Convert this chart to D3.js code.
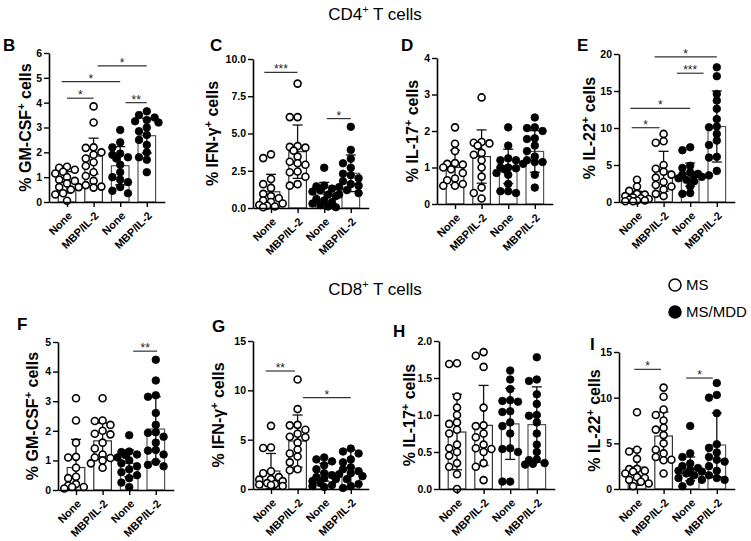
<!DOCTYPE html>
<html><head><meta charset="utf-8">
<script src="https://cdnjs.cloudflare.com/ajax/libs/d3/7.8.5/d3.min.js"></script>
<style>
body{margin:0;background:#fff}
svg{display:block}
text{font-family:"Liberation Sans",Arial,Helvetica,sans-serif}
</style>
</head><body>
<svg id="chart" width="751" height="541"></svg>
<script>
// ---------------- DATA ----------------
const categories = ["None", "MBP/IL-2", "None", "MBP/IL-2"];
const groupOf = ["MS", "MS", "MS/MDD", "MS/MDD"];
const legendItems = ["MS", "MS/MDD"];
const sectionTitles = ["CD4", "CD8"];

// CD4+ GM-CSF (B)
const cd4GmcsfPts = [
  [1.42, 1.38, 1.3, 1.22, 1.15, 1.0, 0.9, 0.85, 0.75, 0.6, 0.6, 0.5, 0.35, 0.3, 0.05],
  [3.85, 3.2, 2.2, 2.18, 2.0, 1.9, 1.75, 1.6, 1.45, 1.2, 1.05, 0.85, 0.68, 0.62, 0.58],
  [2.9, 2.4, 2.2, 1.95, 1.9, 1.8, 1.75, 1.5, 1.2, 1.0, 0.9, 0.8, 0.6, 0.45, 0.35],
  [3.65, 3.5, 3.4, 3.3, 3.25, 3.2, 3.0, 2.85, 2.7, 2.5, 2.3, 2.0, 1.8, 1.7, 1.2]
];
const cd4GmcsfMean = [0.79, 1.85, 1.46, 2.67];
const cd4GmcsfSd = [0.43, 0.72, 0.77, 0.7];
const cd4GmcsfSig = [[0, 1, 4.18, "*"], [-0.2, 2, 4.85, "*"], [1.15, 3, 5.48, "*"], [2.2, 3, 4.0, "**"]];

// CD4+ IFN-g (C)
const cd4IfngPts = [
  [3.6, 3.35, 1.95, 1.6, 1.35, 0.95, 0.8, 0.65, 0.5, 0.4, 0.3, 0.2, 0.15, 0.1, 0.05],
  [8.35, 6.1, 6.1, 4.15, 4.1, 4.05, 3.85, 3.45, 3.1, 3.0, 2.9, 2.45, 2.4, 2.1, 1.6, 1.5],
  [2.7, 1.5, 1.45, 1.3, 1.2, 1.1, 0.9, 0.8, 0.6, 0.5, 0.4, 0.3, 0.2, 0.1, 0.05],
  [5.45, 3.9, 3.3, 3.0, 2.7, 2.3, 2.2, 2.0, 1.8, 1.6, 1.5, 1.4, 1.2, 1.0, 0.9]
];
const cd4IfngMean = [1.09, 3.78, 0.94, 2.33];
const cd4IfngSd = [1.17, 1.79, 0.78, 1.23];
const cd4IfngSig = [[-0.25, 1, 9.1, "***"], [2.1, 3, 6.0, "*"]];

// CD4+ IL-17 (D)
const cd4Il17Pts = [
  [2.1, 1.65, 1.45, 1.12, 1.1, 1.08, 1.0, 0.95, 0.85, 0.7, 0.65, 0.55, 0.5, 0.5],
  [2.92, 1.7, 1.68, 1.66, 1.6, 1.4, 1.35, 1.2, 1.0, 0.75, 0.45, 0.3, 0.15],
  [2.1, 1.6, 1.25, 1.2, 1.2, 1.0, 1.0, 0.98, 0.95, 0.85, 0.8, 0.55, 0.35, 0.35, 0.3],
  [2.37, 2.1, 2.08, 2.0, 1.8, 1.78, 1.6, 1.45, 1.3, 1.2, 1.15, 1.15, 1.1, 0.8, 0.45]
];
const cd4Il17Mean = [1.0, 1.3, 1.03, 1.44];
const cd4Il17Sd = [0.47, 0.73, 0.47, 0.57];
const cd4Il17Sig = [];

// CD4+ IL-22 (E)
const cd4Il22Pts = [
  [3.0, 2.1, 1.5, 1.1, 1.0, 0.8, 0.6, 0.5, 0.4, 0.3, 0.2, 0.2, 0.1, 0.1],
  [9.2, 8.2, 8.0, 5.0, 4.5, 4.1, 3.7, 3.3, 2.7, 2.3, 2.1, 1.7, 1.1, 0.8],
  [7.4, 7.0, 4.9, 4.6, 4.0, 3.8, 3.7, 3.6, 3.4, 3.2, 3.0, 2.8, 2.1, 1.2, 1.1],
  [18.2, 17.0, 14.6, 13.7, 12.6, 11.2, 10.2, 10.1, 9.2, 8.3, 7.7, 6.1, 6.0, 4.2, 3.6]
];
const cd4Il22Mean = [0.77, 4.15, 3.7, 10.2];
const cd4Il22Sd = [0.68, 2.7, 1.57, 4.8];
const cd4Il22Sig = [[-0.2, 0.85, 10.04, "*"], [-0.25, 2, 12.66, "*"], [1.5, 2.5, 17.4, "***"], [0.66, 3, 19.6, "*"]];

// CD8+ GM-CSF (F)
const cd8GmcsfPts = [
  [3.1, 2.35, 1.6, 1.12, 1.1, 0.75, 0.45, 0.4, 0.2, 0.15, 0.1, 0.1, 0.05],
  [3.1, 2.35, 2.33, 2.2, 2.0, 1.9, 1.88, 1.6, 1.4, 1.2, 1.1, 1.08, 1.0, 0.9, 0.75],
  [1.85, 1.3, 1.28, 1.2, 1.18, 1.1, 1.0, 0.9, 0.8, 0.7, 0.6, 0.5, 0.4, 0.25, 0.1],
  [4.4, 3.7, 3.2, 3.15, 2.6, 2.2, 1.95, 1.93, 1.8, 1.6, 1.35, 1.33, 1.2, 0.95, 0.85, 0.8]
];
const cd8GmcsfMean = [0.76, 1.66, 0.9, 2.06];
const cd8GmcsfSd = [0.95, 0.6, 0.45, 1.09];
const cd8GmcsfSig = [[2.15, 3.05, 4.69, "**"]];

// CD8+ IFN-g (G)
const cd8IfngPts = [
  [6.4, 4.2, 4.15, 1.8, 1.6, 1.2, 1.0, 0.95, 0.8, 0.6, 0.5, 0.45, 0.4, 0.3],
  [11.1, 8.1, 6.5, 6.45, 6.0, 5.6, 5.3, 5.25, 4.7, 4.0, 3.6, 3.3, 2.7, 2.0, 1.9],
  [3.2, 3.0, 2.8, 2.4, 2.0, 1.6, 1.4, 1.2, 1.1, 1.0, 0.8, 0.6, 0.4, 0.3, 0.2],
  [4.1, 3.8, 3.6, 3.0, 2.7, 2.2, 2.0, 1.8, 1.6, 1.5, 1.3, 1.0, 0.5, 0.3, 0.1]
];
const cd8IfngMean = [1.82, 4.86, 1.7, 2.1];
const cd8IfngSd = [1.78, 2.64, 0.9, 1.85];
const cd8IfngSig = [[-0.2, 0.9, 11.96, "**"], [1.2, 3, 9.26, "*"]];

// CD8+ IL-17 (H)
const cd8Il17Pts = [
  [1.7, 1.69, 1.25, 1.1, 1.0, 0.9, 0.88, 0.8, 0.75, 0.6, 0.55, 0.5, 0.45, 0.35, 0.3, 0.2, 0.0],
  [1.85, 1.8, 1.65, 1.1, 0.86, 0.85, 0.75, 0.7, 0.6, 0.55, 0.54, 0.5, 0.35, 0.3, 0.12],
  [1.6, 1.48, 1.35, 1.2, 1.19, 1.18, 1.05, 1.04, 0.9, 0.85, 0.75, 0.55, 0.54, 0.5, 0.1, 0.1],
  [1.78, 1.48, 1.46, 1.28, 1.15, 1.0, 0.99, 0.9, 0.75, 0.6, 0.5, 0.4, 0.39, 0.35, 0.34, 0.33]
];
const cd8Il17Mean = [0.77, 0.86, 0.88, 0.87];
const cd8Il17Sd = [0.51, 0.54, 0.48, 0.51];
const cd8Il17Sig = [];

// CD8+ IL-22 (I)
const cd8Il22Pts = [
  [8.4, 4.3, 4.1, 3.3, 2.2, 2.18, 2.0, 1.9, 1.7, 1.3, 1.2, 1.0, 0.8, 0.6, 0.3],
  [11.1, 10.1, 8.7, 8.1, 7.5, 6.7, 6.5, 5.9, 5.0, 4.3, 3.9, 3.5, 3.2, 3.15, 1.7],
  [6.9, 3.9, 3.5, 2.8, 2.5, 2.3, 2.1, 2.0, 1.9, 1.7, 1.5, 1.2, 1.0, 0.8, 0.3],
  [11.6, 10.3, 10.0, 8.3, 4.9, 4.5, 4.0, 3.5, 3.2, 3.0, 2.5, 2.0, 1.5, 1.2, 1.0]
];
const cd8Il22Mean = [2.4, 5.8, 2.2, 4.82];
const cd8Il22Sd = [2.0, 2.63, 1.3, 3.5];
const cd8Il22Sig = [[-0.1, 0.9, 13.1, "*"], [1.85, 2.85, 12.15, "*"]];

// axis ticks
const ticksB = [0, 1, 2, 3, 4, 5, 6];
const ticksC = [0, 2.5, 5, 7.5, 10];
const ticksD = [0, 1, 2, 3, 4];
const ticksE = [0, 5, 10, 15, 20];
const ticksF = [0, 1, 2, 3, 4, 5];
const ticksG = [0, 5, 10, 15];
const ticksH = [0, 0.5, 1.0, 1.5, 2.0];
const ticksI = [0, 5, 10, 15];

// ---------------- LAYOUT ----------------
const panels = [
  {letter:"B", name:"GM-CSF", pts:cd4GmcsfPts, mean:cd4GmcsfMean, sd:cd4GmcsfSd, sig:cd4GmcsfSig, ticks:ticksB, fmt:"d",   x0:49,  yTop:53,  yBot:202, lx:31,  letX:3,   letY:51},
  {letter:"C", name:"IFN-\u03B3", pts:cd4IfngPts, mean:cd4IfngMean, sd:cd4IfngSd, sig:cd4IfngSig, ticks:ticksC, fmt:".1f", x0:253, yTop:59,  yBot:208, lx:218, letX:210, letY:51},
  {letter:"D", name:"IL-17",  pts:cd4Il17Pts, mean:cd4Il17Mean, sd:cd4Il17Sd, sig:cd4Il17Sig, ticks:ticksD, fmt:"d",   x0:437, yTop:58,  yBot:204, lx:418, letX:401, letY:51},
  {letter:"E", name:"IL-22",  pts:cd4Il22Pts, mean:cd4Il22Mean, sd:cd4Il22Sd, sig:cd4Il22Sig, ticks:ticksE, fmt:"d",   x0:619, yTop:54,  yBot:202, lx:595, letX:577, letY:51},
  {letter:"F", name:"GM-CSF", pts:cd8GmcsfPts, mean:cd8GmcsfMean, sd:cd8GmcsfSd, sig:cd8GmcsfSig, ticks:ticksF, fmt:"d",   x0:58,  yTop:342, yBot:490, lx:38,  letX:17,  letY:330},
  {letter:"G", name:"IFN-\u03B3", pts:cd8IfngPts, mean:cd8IfngMean, sd:cd8IfngSd, sig:cd8IfngSig, ticks:ticksG, fmt:"d",   x0:253, yTop:341, yBot:489, lx:224, letX:212, letY:332},
  {letter:"H", name:"IL-17",  pts:cd8Il17Pts, mean:cd8Il17Mean, sd:cd8Il17Sd, sig:cd8Il17Sig, ticks:ticksH, fmt:".1f", x0:439, yTop:341, yBot:489, lx:415, letX:393, letY:337},
  {letter:"I", name:"IL-22",  pts:cd8Il22Pts, mean:cd8Il22Mean, sd:cd8Il22Sd, sig:cd8Il22Sig, ticks:ticksI, fmt:"d",   x0:619, yTop:352, yBot:489, lx:600, letX:590, letY:350}
];

const svg = d3.select("#chart");
svg.append("rect").attr("width",751).attr("height",541).attr("fill","#fff");

const R = 3.5, BW = 17.6, STEP = 26.6, OUT = 18;

function beeswarm(vals, y, cx) {
  const order = vals.map((v,i)=>i).sort((a,b)=>vals[b]-vals[a]);
  const placed = [];
  const d = 2*R + 0.8;
  const cands = [0, -d, d, -d/2, d/2, -1.5*d, 1.5*d];
  const out = [];
  order.forEach(i => {
    const py = y(vals[i]);
    let best = null, bestScore = -Infinity;
    for (const o of cands) {
      let minD = Infinity;
      placed.forEach(p => { const dd = Math.hypot(p[0]-o, p[1]-py); if (dd < minD) minD = dd; });
      if (minD >= 2*R*0.92) { best = o; bestScore = Infinity; break; }
      if (minD > bestScore) { bestScore = minD; best = o; }
    }
    placed.push([best, py]);
    out.push({v: vals[i], x: cx + best, y: py});
  });
  return out;
}

panels.forEach(p => {
  const g = svg.append("g");
  const maxV = p.ticks[p.ticks.length-1];
  const y = d3.scaleLinear().domain([0, maxV]).range([p.yBot, p.yTop]);
  const W = 2*OUT + 3*STEP;
  const x = d3.scalePoint().domain(d3.range(4)).range([p.x0, p.x0 + W]).padding(OUT/STEP);
  const xf = i => p.x0 + OUT + i*STEP; // fractional positions for annotations (same geometry as x)

  // bars
  g.selectAll("rect.bar").data(p.mean).join("rect")
    .attr("x",(m,i)=>x(i)-BW/2).attr("y",m=>y(m))
    .attr("width",BW).attr("height",m=>y(0)-y(m))
    .attr("fill","#fff").attr("stroke",(m,i)=> i<2 ? "#333" : "#555").attr("stroke-width",1.2);

  // error bars
  p.mean.forEach((m,i) => {
    const lo = Math.max(0, m - p.sd[i]), hi = m + p.sd[i];
    const cx = x(i);
    const e = g.append("g").attr("stroke","#111").attr("stroke-width",1.3);
    e.append("line").attr("x1",cx).attr("x2",cx).attr("y1",y(lo)).attr("y2",y(hi));
    e.append("line").attr("x1",cx-5).attr("x2",cx+5).attr("y1",y(hi)).attr("y2",y(hi));
    if (m - p.sd[i] > 0) e.append("line").attr("x1",cx-5).attr("x2",cx+5).attr("y1",y(lo)).attr("y2",y(lo));
  });

  // points
  p.pts.forEach((vals,i) => {
    const filled = groupOf[i] === "MS/MDD";
    const pts = beeswarm(vals, y, x(i));
    g.selectAll(null).data(pts).join("circle")
      .attr("cx",d=>d.x).attr("cy",d=>d.y).attr("r", filled ? R+0.3 : R)
      .attr("fill", filled ? "#000" : "#fff")
      .attr("stroke","#000").attr("stroke-width", filled ? 0.8 : 1.6);
  });

  // axes
  const fmt = d3.format(p.fmt);
  const ya = g.append("g").attr("transform",`translate(${p.x0},0)`)
    .call(d3.axisLeft(y).tickValues(p.ticks).tickFormat(fmt).tickSize(5).tickSizeOuter(0));
  const xa = g.append("g").attr("transform",`translate(0,${p.yBot})`)
    .call(d3.axisBottom(x).tickFormat(i=>categories[i]).tickSize(5).tickSizeOuter(0));
  [ya, xa].forEach(a => {
    a.select(".domain").attr("stroke","#000").attr("stroke-width",1.6);
    a.selectAll(".tick line").attr("stroke","#000").attr("stroke-width",1.4);
    a.selectAll("text").attr("font-family","'Liberation Sans',Arial,sans-serif").attr("font-weight","bold").attr("fill","#000");
  });
  ya.selectAll("text").attr("font-size",10.5).attr("x",-7);
  xa.selectAll("text").attr("font-size",11)
    .attr("text-anchor","end").attr("dy","0.3em").attr("y",0).attr("x",0)
    .attr("transform","translate(3,12) rotate(-45)");

  // y label
  const mid = (p.yTop + p.yBot)/2;
  const lab = g.append("text").attr("transform",`translate(${p.lx},${mid}) rotate(-90)`)
    .attr("text-anchor","middle").attr("font-size",16).attr("font-weight","bold").attr("fill","#000");
  lab.append("tspan").text("% " + p.name);
  lab.append("tspan").text("+").attr("font-size",11).attr("dy",-6);
  lab.append("tspan").text(" cells").attr("dy",6);

  // panel letter
  g.append("text").attr("x",p.letX).attr("y",p.letY).text(p.letter)
    .attr("font-size",17).attr("font-weight","bold").attr("fill","#000");

  // significance
  p.sig.forEach(s => {
    const [a,b,v,t] = s;
    g.append("line").attr("x1",xf(a)).attr("x2",xf(b)).attr("y1",y(v)).attr("y2",y(v))
      .attr("stroke","#333").attr("stroke-width",1.2);
    g.append("text").attr("x",(xf(a)+xf(b))/2).attr("y",y(v)+1).attr("text-anchor","middle")
      .attr("font-size",12).attr("fill","#222").text(t);
  });
});

// section titles
[[20, sectionTitles[0]], [295, sectionTitles[1]]].forEach(([yy, t]) => {
  const tt = svg.append("text").attr("x",375).attr("y",yy).attr("text-anchor","middle")
    .attr("font-size",17).attr("fill","#000");
  tt.append("tspan").text(t);
  tt.append("tspan").text("+").attr("font-size",11).attr("dy",-7);
  tt.append("tspan").text(" T cells").attr("dy",7);
});

// legend
legendItems.forEach((t,i) => {
  const yy = 285 + i*27;
  svg.append("circle").attr("cx",675).attr("cy",yy).attr("r",6)
    .attr("fill", i===0 ? "#fff" : "#000").attr("stroke","#000").attr("stroke-width",1.5);
  svg.append("text").attr("x",686).attr("y",yy+5).attr("font-size",15).attr("fill","#000").text(t);
});
</script>
</body></html>
